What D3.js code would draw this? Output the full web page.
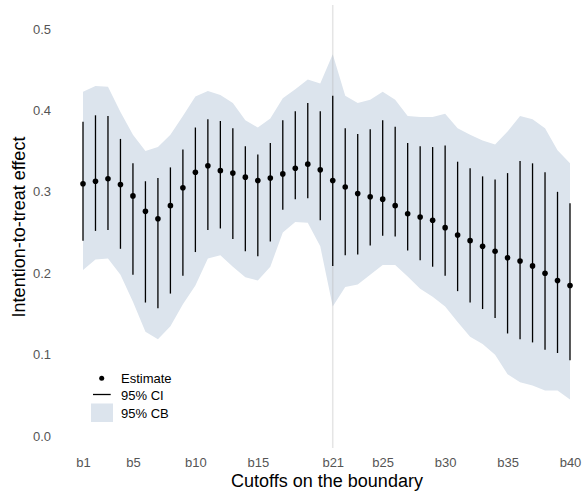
<!DOCTYPE html>
<html>
<head>
<meta charset="utf-8">
<script src="https://cdn.jsdelivr.net/npm/d3@7"></script>
<style>
  body { margin: 0; background: #fff; }
  svg text { font-family: "Liberation Sans", Arial, sans-serif; }
</style>
</head>
<body>
<div id="chart"></div>
<script>
// cutoffs on the boundary
var cutoffs = d3.range(1, 41).map(function(i) { return "b" + i; });
var tickLabels = ["b1", "b5", "b10", "b15", "b21", "b25", "b30", "b35", "b40"];
var yTicks = [0, 0.1, 0.2, 0.3, 0.4, 0.5];
var markedCutoff = "b21";

// point estimates
var estimate = [0.310, 0.313, 0.316, 0.309, 0.295, 0.276, 0.267, 0.283, 0.305, 0.324,
                0.332, 0.326, 0.323, 0.318, 0.314, 0.317, 0.322, 0.329, 0.334, 0.327,
                0.314, 0.306, 0.298, 0.294, 0.291, 0.283, 0.273, 0.269, 0.265, 0.256,
                0.247, 0.240, 0.233, 0.227, 0.219, 0.215, 0.209, 0.200, 0.191, 0.185];

// 95% confidence intervals
var ciLower = [0.240, 0.252, 0.253, 0.230, 0.198, 0.164, 0.157, 0.175, 0.197, 0.226,
               0.253, 0.255, 0.242, 0.227, 0.221, 0.239, 0.278, 0.291, 0.292, 0.265,
               0.209, 0.222, 0.223, 0.234, 0.246, 0.245, 0.228, 0.216, 0.208, 0.197,
               0.178, 0.164, 0.156, 0.145, 0.126, 0.119, 0.115, 0.106, 0.102, 0.093];
var ciUpper = [0.386, 0.394, 0.393, 0.365, 0.335, 0.313, 0.317, 0.330, 0.352, 0.379,
               0.389, 0.387, 0.378, 0.356, 0.346, 0.360, 0.388, 0.399, 0.409, 0.399,
               0.418, 0.378, 0.371, 0.377, 0.388, 0.380, 0.360, 0.356, 0.355, 0.357,
               0.337, 0.329, 0.319, 0.315, 0.323, 0.338, 0.335, 0.324, 0.300, 0.286];

// 95% confidence band
var cbLower = [0.204, 0.217, 0.218, 0.198, 0.165, 0.128, 0.119, 0.135, 0.162, 0.185,
               0.218, 0.222, 0.208, 0.195, 0.191, 0.208, 0.250, 0.263, 0.262, 0.233,
               0.159, 0.183, 0.186, 0.198, 0.210, 0.210, 0.196, 0.181, 0.171, 0.159,
               0.140, 0.122, 0.113, 0.100, 0.076, 0.066, 0.062, 0.056, 0.056, 0.045];
var cbUpper = [0.423, 0.430, 0.429, 0.398, 0.370, 0.350, 0.355, 0.370, 0.393, 0.417,
               0.424, 0.419, 0.409, 0.388, 0.379, 0.390, 0.415, 0.426, 0.438, 0.433,
               0.469, 0.418, 0.409, 0.413, 0.423, 0.413, 0.393, 0.392, 0.392, 0.396,
               0.378, 0.370, 0.363, 0.358, 0.374, 0.393, 0.389, 0.378, 0.351, 0.335];

var width = 582;
var height = 493;
var bandColor = "#dce4ed";
var textGrey = "#555555";

var svg = d3.select("#chart")
            .append("svg")
            .attr("width", width)
            .attr("height", height);

var x = d3.scalePoint()
          .domain(cutoffs)
          .range([83, 570]);

// panel spans 5..448 px, with 0 sitting at 436
var y = d3.scaleLinear()
          .domain([-0.0147, 0.5295])
          .range([448, 5]);

var rows = cutoffs.map(function(c, i) {
    return { cut: c, est: estimate[i], lo: ciLower[i], hi: ciUpper[i], cbLo: cbLower[i], cbHi: cbUpper[i] };
});

// confidence band
var area = d3.area()
             .x(function(d) { return x(d.cut); })
             .y0(function(d) { return y(d.cbLo); })
             .y1(function(d) { return y(d.cbHi); });

svg.append("path")
   .datum(rows)
   .attr("d", area)
   .attr("fill", bandColor);

// reference line at the marked cutoff
svg.append("line")
   .attr("x1", x(markedCutoff))
   .attr("x2", x(markedCutoff))
   .attr("y1", y.range()[1])
   .attr("y2", y.range()[0])
   .attr("stroke", "#b4b4b4")
   .attr("stroke-opacity", 0.35)
   .attr("stroke-width", 1.5);

// confidence intervals
svg.selectAll(".ci")
   .data(rows)
   .enter()
   .append("line")
   .attr("class", "ci")
   .attr("x1", function(d) { return x(d.cut); })
   .attr("x2", function(d) { return x(d.cut); })
   .attr("y1", function(d) { return y(d.lo); })
   .attr("y2", function(d) { return y(d.hi); })
   .attr("stroke", "#000")
   .attr("stroke-width", 1.3);

// estimates
svg.selectAll(".est")
   .data(rows)
   .enter()
   .append("circle")
   .attr("class", "est")
   .attr("cx", function(d) { return x(d.cut); })
   .attr("cy", function(d) { return y(d.est); })
   .attr("r", 2.8)
   .attr("fill", "#000");

// axes, text only
var xAxis = svg.append("g")
               .attr("transform", "translate(0," + 448 + ")")
               .call(d3.axisBottom(x).tickValues(tickLabels).tickSize(0).tickPadding(9.5));
var yAxis = svg.append("g")
               .attr("transform", "translate(" + 56 + ",0)")
               .call(d3.axisLeft(y).tickValues(yTicks).tickFormat(d3.format(".1f")).tickSize(0).tickPadding(5));

[xAxis, yAxis].forEach(function(g) {
    g.select(".domain").remove();
    g.selectAll("text")
     .attr("fill", textGrey)
     .style("font-size", "13px");
});

// axis titles
svg.append("text")
   .attr("x", 327)
   .attr("y", 487)
   .attr("text-anchor", "middle")
   .style("font-size", "18px")
   .attr("fill", "#000")
   .text("Cutoffs on the boundary");

svg.append("text")
   .attr("transform", "translate(25,227) rotate(-90)")
   .attr("text-anchor", "middle")
   .style("font-size", "18px")
   .attr("fill", "#000")
   .text("Intention-to-treat effect");

// legend
var legend = svg.append("g").style("font-size", "13px");

legend.append("circle")
      .attr("cx", 101.7).attr("cy", 378.3).attr("r", 2.5).attr("fill", "#000");
legend.append("line")
      .attr("x1", 93).attr("x2", 110.7).attr("y1", 394.5).attr("y2", 394.5)
      .attr("stroke", "#000").attr("stroke-width", 1.3);
legend.append("rect")
      .attr("x", 91).attr("y", 403.5).attr("width", 22).attr("height", 18.5)
      .attr("fill", bandColor);

var legendLabels = ["Estimate", "95% CI", "95% CB"];
legend.selectAll(".lab")
      .data(legendLabels)
      .enter()
      .append("text")
      .attr("class", "lab")
      .attr("x", 121)
      .attr("y", function(d, i) { return 383 + i * 17.3; })
      .attr("fill", "#000")
      .text(function(d) { return d; });
</script>
</body>
</html>
